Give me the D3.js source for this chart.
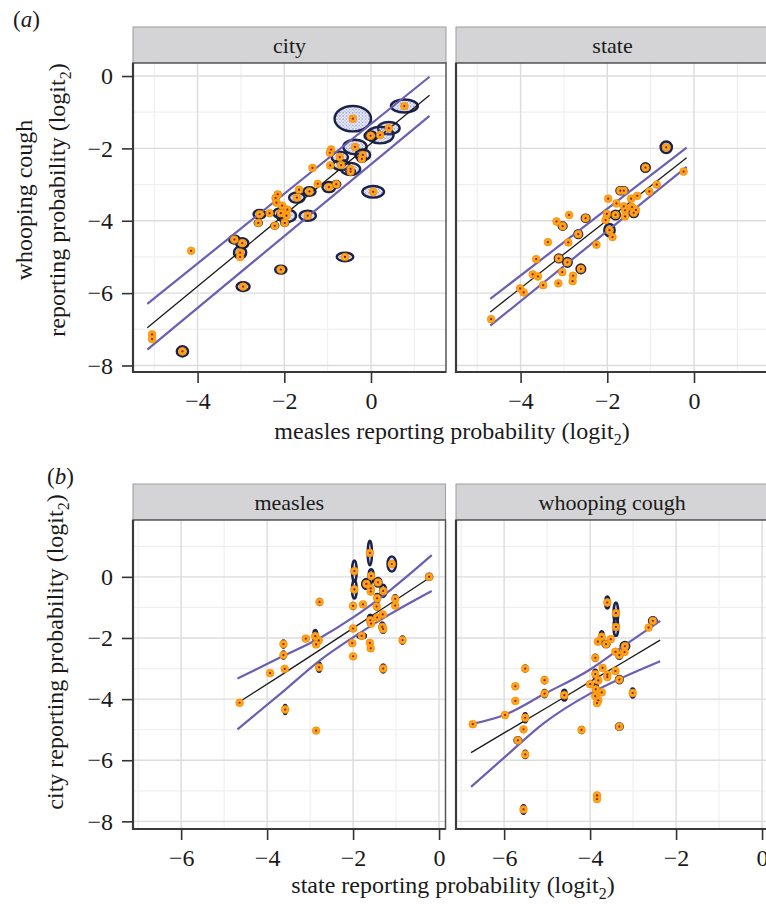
<!DOCTYPE html>
<html><head><meta charset="utf-8">
<script src="https://cdn.jsdelivr.net/npm/d3@7"></script>
<style>body{margin:0;background:#fff} svg text{font-family:'Liberation Serif','DejaVu Serif',serif !important;}</style>
</head><body>
<svg id="c" width="766" height="904"></svg>
<script>
// ---------- DATA ----------
// (a) city: x = measles, y = whooping cough; sx/sy = posterior spread
const aCityX  = [0.77,-0.42,0.41,0.21,-0.01,-0.37,-0.92,-0.95,-0.72,-0.19,-0.21,-1.35,-0.94,-0.69,-0.47,-0.47,-1.23,-0.97,-0.80,0.05,-1.42,-1.66,-1.71,-2.15,-2.20,-2.18,-2.05,-1.93,-2.08,-1.95,-2.34,-2.57,-2.60,-2.22,-1.99,-1.46,-3.15,-2.97,-4.15,-3.02,-3.02,-0.60,-2.08,-2.95,-5.05,-5.05,-4.35];
const aCityY  = [-0.83,-1.18,-1.44,-1.63,-1.65,-1.96,-2.03,-2.12,-2.24,-2.18,-2.29,-2.54,-2.47,-2.46,-2.57,-2.64,-2.98,-3.07,-2.99,-3.20,-3.19,-3.14,-3.36,-3.27,-3.37,-3.50,-3.58,-3.69,-3.79,-3.86,-3.79,-3.82,-4.06,-4.14,-4.06,-3.86,-4.52,-4.62,-4.83,-4.88,-5.00,-5.00,-5.35,-5.82,-7.14,-7.27,-7.61];
const aCitySX = [0.31,0.42,0.25,0.31,0.14,0.27,0,0,0.19,0.17,0.10,0,0.05,0.19,0.22,0.10,0,0.15,0.09,0.25,0.14,0,0.18,0.06,0.06,0,0,0,0.17,0.22,0,0.14,0.08,0.08,0.08,0.19,0.12,0.14,0,0.14,0.06,0.19,0.13,0.15,0,0,0.13];
const aCitySY = [0.18,0.35,0.17,0.23,0.12,0.20,0,0,0.15,0.15,0.08,0,0.05,0.14,0.17,0.08,0,0.14,0.09,0.16,0.12,0,0.14,0.06,0.06,0,0,0,0.14,0.18,0,0.12,0.08,0.08,0.08,0.14,0.11,0.14,0,0.17,0.06,0.12,0.11,0.12,0,0,0.14];

// (a) state
const aStateX  = [-0.64,-1.12,-0.24,-0.86,-1.03,-1.70,-1.62,-1.31,-1.45,-1.98,-1.79,-1.62,-1.43,-1.34,-1.59,-1.39,-1.81,-2.01,-1.59,-2.04,-1.95,-1.88,-2.25,-2.88,-2.50,-3.17,-3.03,-2.67,-3.37,-2.90,-3.64,-3.12,-2.92,-2.61,-3.04,-3.72,-3.60,-2.79,-2.80,-3.48,-3.13,-4.01,-3.93,-4.68];
const aStateY  = [-1.97,-2.53,-2.64,-3.00,-3.19,-3.17,-3.17,-3.31,-3.39,-3.39,-3.52,-3.60,-3.62,-3.70,-3.71,-3.78,-3.84,-3.81,-3.88,-3.98,-4.26,-4.45,-4.66,-3.84,-3.93,-4.02,-4.15,-4.37,-4.59,-4.60,-5.06,-5.04,-5.15,-5.33,-5.42,-5.48,-5.54,-5.52,-5.67,-5.78,-5.73,-5.87,-5.98,-6.72];
const aStateSX = [0.13,0.10,0,0,0,0.09,0.09,0,0,0,0,0,0,0,0,0.10,0.10,0,0,0,0.12,0,0,0,0.09,0,0.09,0.09,0,0,0,0.09,0.10,0.10,0,0,0,0,0,0,0,0,0,0];
const aStateSY = [0.16,0.12,0,0,0,0.10,0.10,0,0,0,0,0,0,0,0,0.12,0.12,0,0,0,0.17,0,0,0,0.10,0,0.10,0.11,0,0,0,0.11,0.12,0.12,0,0,0,0,0,0,0,0,0,0];

// (b) measles: x = state, y = city
const bMeasX  = [-0.23,-1.10,-1.61,-1.97,-1.97,-2.00,-1.58,-1.69,-1.42,-1.59,-1.59,-1.30,-1.44,-1.02,-1.77,-1.45,-1.02,-1.44,-1.31,-1.60,-1.58,-1.32,-1.30,-2.00,-1.80,-2.78,-2.88,-3.10,-2.80,-2.86,-2.79,-3.62,-3.62,-3.59,-3.93,-4.64,-3.58,-2.86,-2.02,-2.00,-1.61,-1.59,-1.30,-0.85];
const bMeasY  = [0.00,0.42,0.78,0.19,-0.41,-0.95,0.03,-0.23,-0.18,-0.38,-0.48,-0.46,-0.70,-0.72,-0.90,-0.97,-0.94,-1.33,-1.23,-1.42,-1.53,-1.64,-1.71,-1.69,-1.93,-0.82,-1.94,-2.02,-2.08,-2.21,-2.96,-2.20,-2.56,-3.01,-3.15,-4.12,-4.34,-5.03,-2.17,-2.60,-2.16,-2.34,-3.00,-2.07];
const bMeasSX = [0.07,0.10,0.05,0.055,0.055,0.04,0.06,0.10,0.08,0.05,0.04,0.07,0.05,0.05,0,0.04,0,0,0,0.06,0,0.06,0.06,0,0.10,0.04,0.05,0.06,0,0,0.05,0.04,0.04,0,0,0,0.04,0,0,0,0,0,0.06,0.05];
const bMeasSY = [0.10,0.25,0.40,0.35,0.30,0.10,0.22,0.16,0.14,0.10,0.08,0.20,0.14,0.12,0,0.10,0,0,0,0.18,0,0.15,0.12,0,0.08,0.10,0.20,0.08,0,0,0.15,0.12,0.12,0,0,0,0.15,0,0,0,0,0,0.13,0.12];

// (b) whooping cough
const bWhoopX  = [-6.73,-5.98,-5.51,-5.74,-5.74,-5.51,-5.55,-5.68,-5.51,-5.55,-5.06,-5.06,-4.60,-4.20,-3.84,-3.84,-3.60,-3.40,-3.40,-3.73,-3.82,-3.63,-3.52,-3.88,-3.41,-3.32,-3.20,-3.19,-2.64,-2.54,-3.71,-3.88,-3.60,-3.60,-3.41,-3.81,-4.00,-3.32,-3.87,-3.73,-3.88,-3.81,-3.84,-3.01,-3.32];
const bWhoopY  = [-4.82,-4.52,-3.00,-3.58,-4.06,-4.61,-4.99,-5.35,-5.81,-7.61,-3.38,-3.82,-3.87,-5.01,-7.15,-7.27,-0.84,-1.19,-1.64,-1.96,-2.12,-2.20,-2.04,-2.65,-2.45,-2.56,-2.46,-2.27,-1.66,-1.44,-2.98,-3.18,-3.20,-3.28,-3.08,-3.39,-3.51,-3.36,-3.68,-3.78,-3.90,-4.04,-4.13,-3.80,-4.90];
const bWhoopSX = [0,0,0.04,0,0,0.05,0,0.08,0.05,0.05,0.04,0.05,0.06,0.05,0,0,0.05,0.055,0.055,0.05,0,0.08,0,0.05,0,0.07,0,0.10,0,0.09,0,0.05,0,0,0,0,0,0.08,0.06,0,0,0,0,0.05,0.08];
const bWhoopSY = [0,0,0.10,0,0,0.15,0,0.10,0.12,0.14,0.10,0.12,0.18,0.10,0,0,0.20,0.35,0.30,0.18,0,0.10,0,0.10,0,0.12,0,0.14,0,0.12,0,0.14,0,0,0,0,0,0.12,0.18,0,0,0,0,0.15,0.10];

// fitted lines and bands
const aCityLineX  = [-5.16, 1.35];
const aCityFit    = [-6.96, -0.53];
const aCityUpper  = [-6.30, -0.02];
const aCityLower  = [-7.56, -1.10];
const aStateLineX = [-4.70, -0.17];
const aStateFit   = [-6.52, -2.26];
const aStateUpper = [-6.16, -1.98];
const aStateLower = [-6.90, -2.51];
const bMeasLineX  = [-4.69, -3.70, -2.77, -1.99, -1.14, -0.17];
const bMeasFit    = [-4.13, -3.24, -2.39, -1.67, -0.88, 0.02];
const bMeasUpper  = [-3.33, -2.64, -2.00, -1.32, -0.44, 0.71];
const bMeasLower  = [-4.99, -3.84, -2.73, -1.97, -1.22, -0.46];
const bWhoopLineX = [-6.77, -5.98, -5.09, -4.00, -3.30, -2.37];
const bWhoopFit   = [-5.75, -5.09, -4.35, -3.43, -2.85, -2.07];
const bWhoopUpper = [-4.82, -4.51, -3.85, -3.03, -2.34, -1.44];
const bWhoopLower = [-6.87, -5.89, -4.80, -3.82, -3.33, -2.76];

// axes
const aXTicks = [-4,-2,0], aXMinor = [-5,-3,-1,1];
const aYTicks = [0,-2,-4,-6,-8], aYMinor = [-1,-3,-5,-7];
const bXTicks = [-6,-4,-2,0], bXMinor = [-7,-5,-3,-1];
const bYTicks = [0,-2,-4,-6,-8], bYMinor = [1,-1,-3,-5,-7];

// ---------- DRAW ----------
const FONT = "Liberation Serif, DejaVu Serif, serif";
const FS = 24;
const svg = d3.select("#c");
const defs = svg.append("defs");
const pat = defs.append("pattern").attr("id","speck").attr("patternUnits","userSpaceOnUse")
  .attr("width",3.2).attr("height",3.2);
pat.append("rect").attr("width",3.2).attr("height",3.2).attr("fill","rgba(140,150,215,0.18)");
pat.append("circle").attr("cx",0.8).attr("cy",0.8).attr("r",0.55).attr("fill","#3d4aa0");
pat.append("circle").attr("cx",2.4).attr("cy",2.4).attr("r",0.45).attr("fill","#5a66b8");

const zip = (xs, ys, sx, sy) => xs.map((d,i)=>({x:d, y:ys[i], sx:sx?sx[i]:0, sy:sy?sy[i]:0}));
const tc = "#1a1a1a";

function panel(o){
  const g = svg.append("g");
  const x = d3.scaleLinear().domain(o.xd).range([o.left, o.left + o.w]);
  const y = d3.scaleLinear().domain(o.yd).range([o.top + o.h, o.top]);
  // strip
  g.append("rect").attr("x", o.left).attr("y", o.top - 36).attr("width", o.w).attr("height", 36)
    .attr("fill", "#d4d4d6").attr("stroke", "#9c9c9c").attr("stroke-width", 1);
  g.append("text").attr("x", o.left + o.w/2).attr("y", o.top - 10).attr("text-anchor","middle")
    .attr("font-family", FONT).attr("font-size", 22).attr("fill", tc).text(o.strip);
  // background + grid
  g.append("rect").attr("x", o.left).attr("y", o.top).attr("width", o.w).attr("height", o.h).attr("fill","#fff");
  const clip = "clip" + Math.round(o.left) + Math.round(o.top);
  defs.append("clipPath").attr("id", clip).append("rect")
    .attr("x", o.left).attr("y", o.top).attr("width", o.w).attr("height", o.h);
  const pg = g.append("g").attr("clip-path", `url(#${clip})`);
  pg.selectAll(".vmin").data(o.xMinor).join("line").attr("x1", d=>x(d)).attr("x2", d=>x(d))
    .attr("y1", o.top).attr("y2", o.top+o.h).attr("stroke","#f0f0f0").attr("stroke-width",1.2);
  pg.selectAll(".hmin").data(o.yMinor).join("line").attr("y1", d=>y(d)).attr("y2", d=>y(d))
    .attr("x1", o.left).attr("x2", o.left+o.w).attr("stroke","#f0f0f0").attr("stroke-width",1.2);
  pg.selectAll(".vmaj").data(o.xTicks).join("line").attr("x1", d=>x(d)).attr("x2", d=>x(d))
    .attr("y1", o.top).attr("y2", o.top+o.h).attr("stroke","#dcdcdc").attr("stroke-width",1.4);
  pg.selectAll(".hmaj").data(o.yTicks).join("line").attr("y1", d=>y(d)).attr("y2", d=>y(d))
    .attr("x1", o.left).attr("x2", o.left+o.w).attr("stroke","#dcdcdc").attr("stroke-width",1.4);
  // ellipses (posterior clouds)
  const pts = o.pts;
  pg.selectAll(".ell").data(pts.filter(d=>d.sx>0)).join("ellipse")
    .attr("cx", d=>x(d.x)).attr("cy", d=>y(d.y))
    .attr("rx", d=>Math.abs(x(d.x+d.sx)-x(d.x))).attr("ry", d=>Math.abs(y(d.y+d.sy)-y(d.y)))
    .attr("fill", "url(#speck)").attr("stroke", "#1c2147").attr("stroke-width", 2.4);
  // lines
  const lineGen = d3.line().x(d=>x(d[0])).y(d=>y(d[1])).curve(d3.curveMonotoneX);
  const mk = ys => o.lx.map((d,i)=>[d, ys[i]]);
  pg.append("path").attr("d", lineGen(mk(o.upper))).attr("fill","none").attr("stroke","#6a5fb3").attr("stroke-width",2.2);
  pg.append("path").attr("d", lineGen(mk(o.lower))).attr("fill","none").attr("stroke","#6a5fb3").attr("stroke-width",2.2);
  pg.append("path").attr("d", lineGen(mk(o.fit))).attr("fill","none").attr("stroke","#1a1a1a").attr("stroke-width",1.3);
  // points
  pg.selectAll(".pt").data(pts).join("circle").attr("cx", d=>x(d.x)).attr("cy", d=>y(d.y))
    .attr("r", 3.9).attr("fill", "#ffa31a").attr("stroke", "#f08a00").attr("stroke-width", 0.6);
  pg.selectAll(".ctr").data(pts).join("circle").attr("cx", d=>x(d.x)).attr("cy", d=>y(d.y))
    .attr("r", 1.1).attr("fill", "#8a1f10");
  // border
  g.append("rect").attr("x", o.left).attr("y", o.top).attr("width", o.w).attr("height", o.h)
    .attr("fill","none").attr("stroke","#555").attr("stroke-width",1.5);
  g.append("path").attr("d", `M${o.left},${o.top}V${o.top+o.h}H${o.left+o.w}`)
    .attr("fill","none").attr("stroke","#3a3a3a").attr("stroke-width",2.2);
  // axes
  const fmt = d3.format("d");
  const xa = g.append("g").attr("transform", `translate(0,${o.top+o.h})`)
    .call(d3.axisBottom(x).tickValues(o.xTicks).tickSize(11).tickPadding(9).tickFormat(fmt));
  styleAxis(xa);
  if (o.yAxis) {
    const ya = g.append("g").attr("transform", `translate(${o.left},0)`)
      .call(d3.axisLeft(y).tickValues(o.yTicks).tickSize(11).tickPadding(9).tickFormat(fmt));
    styleAxis(ya);
  }
}
function styleAxis(a){
  a.attr("font-family", FONT);
  a.select(".domain").remove();
  a.selectAll(".tick line").attr("stroke","#333").attr("stroke-width",1.6);
  a.selectAll(".tick text").attr("font-size",FS).attr("fill",tc).attr("font-family",FONT);
}

const W = 313, H = 309;
panel({left:133, top:63, w:W, h:H, xd:[-5.49,1.73], yd:[-8.18,0.36], strip:"city",
  xTicks:aXTicks, xMinor:aXMinor, yTicks:aYTicks, yMinor:aYMinor, yAxis:true,
  pts: zip(aCityX,aCityY,aCitySX,aCitySY), lx:aCityLineX, fit:aCityFit, upper:aCityUpper, lower:aCityLower});
panel({left:456, top:63, w:W, h:H, xd:[-5.49,1.73], yd:[-8.18,0.36], strip:"state",
  xTicks:aXTicks, xMinor:aXMinor, yTicks:aYTicks, yMinor:aYMinor, yAxis:false,
  pts: zip(aStateX,aStateY,aStateSX,aStateSY), lx:aStateLineX, fit:aStateFit, upper:aStateUpper, lower:aStateLower});
panel({left:133, top:520, w:312.5, h:H, xd:[-7.12,0.15], yd:[-8.25,1.86], strip:"measles",
  xTicks:bXTicks, xMinor:bXMinor, yTicks:bYTicks, yMinor:bYMinor, yAxis:true,
  pts: zip(bMeasX,bMeasY,bMeasSX,bMeasSY), lx:bMeasLineX, fit:bMeasFit, upper:bMeasUpper, lower:bMeasLower});
panel({left:456, top:520, w:312.5, h:H, xd:[-7.12,0.15], yd:[-8.25,1.86], strip:"whooping cough",
  xTicks:bXTicks, xMinor:bXMinor, yTicks:bYTicks, yMinor:bYMinor, yAxis:false,
  pts: zip(bWhoopX,bWhoopY,bWhoopSX,bWhoopSY), lx:bWhoopLineX, fit:bWhoopFit, upper:bWhoopUpper, lower:bWhoopLower});

// titles
function txt(fs){ return svg.append("text").attr("font-family",FONT).attr("font-size",fs||FS).attr("fill",tc); }
function sub(t, pre){
  t.append("tspan").text(pre + " (logit");
  t.append("tspan").attr("font-size",16).attr("dy",6).text("2");
  t.append("tspan").attr("dy",-6).text(")");
}
let t = txt().attr("x",452).attr("y",439).attr("text-anchor","middle");
sub(t, "measles reporting probability");
t = txt().attr("x",453).attr("y",893).attr("text-anchor","middle");
sub(t, "state reporting probability");
txt().attr("transform","translate(32,200) rotate(-90)").attr("text-anchor","middle").text("whooping cough");
t = txt().attr("transform","translate(65,200) rotate(-90)").attr("text-anchor","middle");
sub(t, "reporting probability");
t = txt().attr("transform","translate(63,652) rotate(-90)").attr("text-anchor","middle");
sub(t, "city reporting probability");

function tag(xp, yp, letter){
  const s = txt(23).attr("x",xp).attr("y",yp);
  s.append("tspan").text("(");
  s.append("tspan").attr("font-style","italic").text(letter);
  s.append("tspan").text(")");
}
tag(13, 27, "a");
tag(47, 484, "b");
</script>
</body></html>
